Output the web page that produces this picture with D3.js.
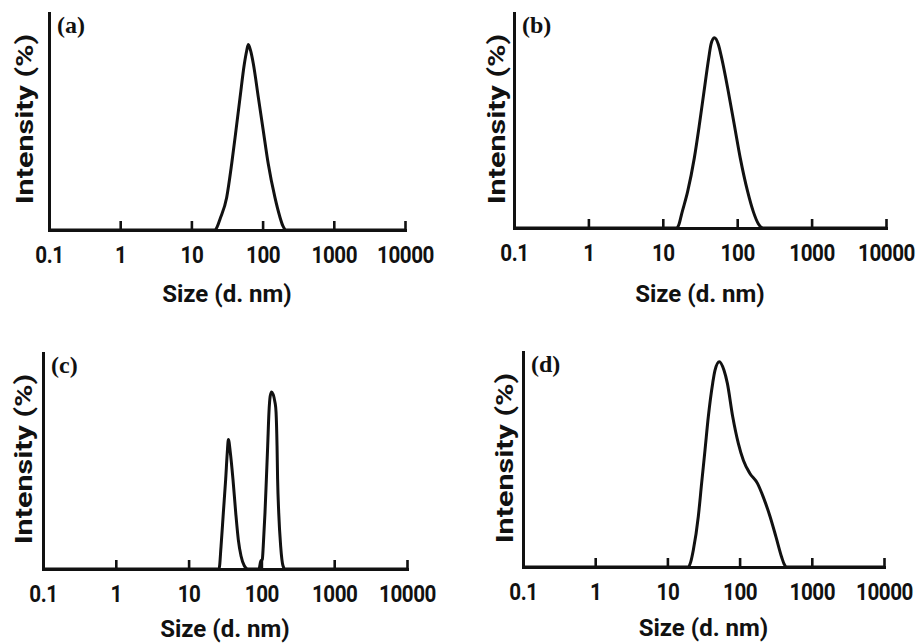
<!DOCTYPE html>
<html>
<head>
<meta charset="utf-8">
<script src="https://cdn.jsdelivr.net/npm/d3@7"></script>
<style>
  body { margin: 0; background: #fff; }
</style>
</head>
<body>
<script>
const WIDTH = 920
const HEIGHT = 644

// size axis (d.nm), log scale
const sizeTicks = [0.1, 1, 10, 100, 1000, 10000]
const tickLabels = ['0.1', '1', '10', '100', '1000', '10000']
const panelNames = ['(a)', '(b)', '(c)', '(d)']

// curves: size (d.nm) vs intensity (%)
const sizeA = [0.1, 21.4, 23.2, 25.2, 31.3, 36.8, 42.3, 48.2, 55.4, 59.7, 63, 68, 74.2, 87.2, 102, 120, 149, 175, 192, 214, 10000]
const intensityA = [0, 0, 0.35, 1.0, 3.0, 6.1, 9.2, 12.2, 15.3, 16.5, 17.1, 16.5, 15.3, 12.2, 9.2, 6.1, 3.0, 1.2, 0.4, 0, 0]

const sizeB = [0.1, 15.4, 16.6, 17.9, 21.6, 26.5, 31, 35.8, 41.4, 44.5, 49.2, 55.7, 61.9, 75.9, 91.4, 110, 138, 165, 192, 224, 10000]
const intensityB = [0, 0, 0.4, 1.3, 3.4, 6.5, 9.6, 12.7, 15.8, 17.1, 17.7, 17.1, 15.8, 12.7, 9.6, 6.5, 3.4, 1.5, 0.4, 0, 0]

const sizeC = [0.1, 26.2, 27.9, 30, 32.3, 34, 35.2, 37.4, 40.7, 44.4, 48.2, 52.5, 58.2, 64.9,
  92.7, 97.7, 103, 106, 112, 117, 122, 127, 132, 138, 154, 159, 164, 167, 173, 184, 198, 211, 10000]
const intensityC = [0, 0, 2.1, 5.2, 8.3, 10.8, 12.0, 10.8, 8.3, 5.2, 2.7, 1.2, 0.3, 0,
  0, 0.7, 0.9, 2.1, 5.2, 8.3, 11.4, 14.5, 16.0, 16.4, 15.4, 14.5, 11.4, 8.3, 5.2, 2.1, 0.3, 0, 0]

const sizeD = [0.1, 19.5, 21.1, 22.9, 26.8, 29.8, 33.2, 36.9, 42.4, 45.6, 52.4, 60.8, 67.6, 80.2, 96, 113, 139, 176, 213, 264, 319, 383, 415, 449, 10000]
const intensityD = [0, 0, 0.5, 1.6, 4.7, 7.8, 10.9, 14.0, 17.1, 18.3, 19.1, 18.3, 17.1, 14.0, 11.5, 9.9, 8.7, 7.8, 6.5, 4.7, 2.8, 0.9, 0.25, 0, 0]

const series = [
  { size: sizeA, intensity: intensityA },
  { size: sizeB, intensity: intensityB },
  { size: sizeC, intensity: intensityC },
  { size: sizeD, intensity: intensityD }
]

// where each small plot sits
const layout = [
  { x0: 49, x1: 405, top: 13, base: 230, titleX: 33, titleY: 72 },
  { x0: 514, x1: 886, top: 13, base: 228, titleX: 505, titleY: 74 },
  { x0: 43, x1: 407, top: 353, base: 569, titleX: 32, titleY: 68 },
  { x0: 523, x1: 884, top: 352, base: 567, titleX: 513, titleY: 69 }
]

const INK = '#111'
const SANS = 'Roboto, "Noto Sans", sans-serif'

const svg = d3.select(document.body).append('svg')
  .attr('width', WIDTH)
  .attr('height', HEIGHT)
  .style('display', 'block')

series.forEach((s, i) => {
  const L = layout[i]
  const x = d3.scaleLog().domain([0.1, 10000]).range([L.x0, L.x1])
  const y = d3.scaleLinear().domain([0, 20]).range([L.base, L.top])
  const g = svg.append('g')

  const points = s.size.map((v, k) => ({ size: v, value: s.intensity[k] }))
  const line = d3.line()
    .x(d => x(d.size))
    .y(d => y(d.value))
    .curve(d3.curveMonotoneX)

  g.append('path')
    .datum(points)
    .attr('d', line)
    .attr('fill', 'none')
    .attr('stroke', INK)
    .attr('stroke-width', 3)
    .attr('stroke-linejoin', 'round')

  // x axis, ticks pointing up
  const xAxis = g.append('g')
    .attr('transform', `translate(0,${L.base})`)
    .call(d3.axisBottom(x)
      .tickValues(sizeTicks)
      .tickFormat((d, k) => tickLabels[k])
      .tickSize(-9)
      .tickSizeOuter(0))
  xAxis.select('.domain')
    .attr('stroke', INK)
    .attr('stroke-width', 3)
    .attr('stroke-linecap', 'square')
  xAxis.selectAll('.tick line')
    .attr('stroke', INK)
    .attr('stroke-width', 2.6)
  xAxis.selectAll('.tick text')
    .attr('y', 33)
    .attr('dy', null)
    .attr('fill', INK)
    .attr('font-family', SANS)
    .attr('font-weight', 'bold')
    .attr('font-size', 24)
    .attr('letter-spacing', -0.5)
    .attr('transform', 'scale(0.86,1)')

  // y axis, no ticks
  const yAxis = g.append('g')
    .attr('transform', `translate(${L.x0},0)`)
    .call(d3.axisLeft(y).tickValues([]).tickSizeOuter(0))
  yAxis.select('.domain')
    .attr('stroke', INK)
    .attr('stroke-width', 3)
    .attr('stroke-linecap', 'square')

  g.append('text')
    .attr('x', (L.x0 + L.x1) / 2)
    .attr('y', L.base + L.titleY)
    .attr('text-anchor', 'middle')
    .attr('fill', INK)
    .attr('font-family', SANS)
    .attr('font-weight', 'bold')
    .attr('font-size', 24)
    .text('Size (d. nm)')

  g.append('text')
    .attr('transform', `translate(${L.titleX},${L.top + 106}) rotate(-90) scale(1.27,1)`)
    .attr('text-anchor', 'middle')
    .attr('fill', INK)
    .attr('font-family', SANS)
    .attr('font-weight', 'bold')
    .attr('font-size', 24)
    .text('Intensity (%)')

  g.append('text')
    .attr('x', L.x0 + 8)
    .attr('y', L.top + 20)
    .attr('fill', INK)
    .attr('font-family', '"Liberation Serif", "Times New Roman", serif')
    .attr('font-weight', 'bold')
    .attr('font-size', 24)
    .text(panelNames[i])
})
</script>
</body>
</html>
